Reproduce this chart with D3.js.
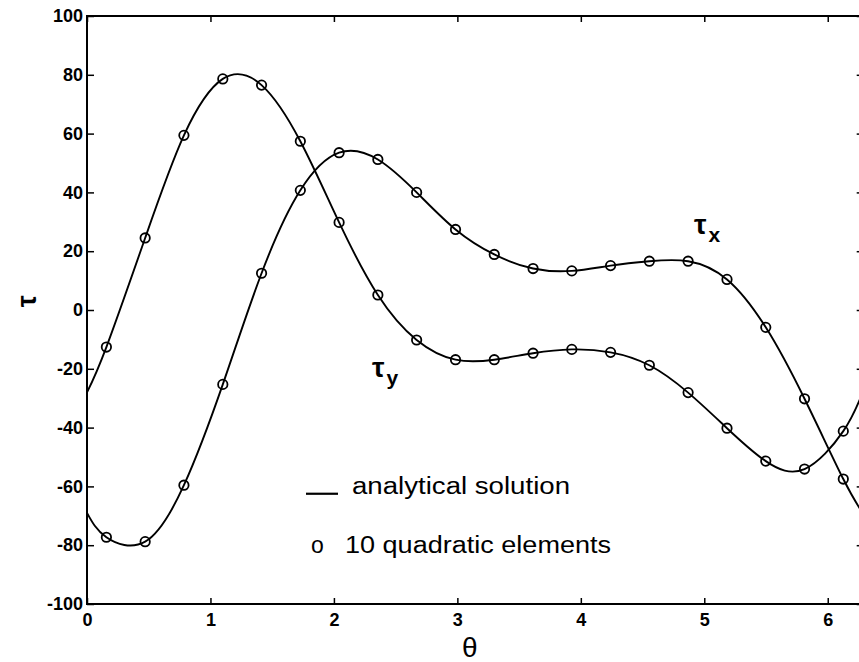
<!DOCTYPE html>
<html>
<head>
<meta charset="utf-8">
<script src="https://cdn.jsdelivr.net/npm/d3@7"></script>
<style>
  html, body { margin: 0; padding: 0; background: #fff; }
  svg { display: block; }
  text { font-family: "Liberation Sans", Arial, Helvetica, sans-serif; fill: #000; }
</style>
</head>
<body>
<svg id="chart" width="859" height="662"></svg>
<script>
// ---- data ----
const thetaNodes = [0.157, 0.471, 0.785, 1.100, 1.414, 1.728, 2.042, 2.356, 2.670, 2.985,
                    3.299, 3.613, 3.927, 4.241, 4.555, 4.869, 5.184, 5.498, 5.812, 6.126];
// curve labelled tau_y (starts near -28, peaks near 80)
const tauYNodes = [-12.6, 24.5, 59.4, 78.6, 76.5, 57.4, 29.8, 5.1, -10.2, -16.9,
                   -16.9, -14.7, -13.4, -14.4, -18.8, -28.1, -40.2, -51.4, -54.1, -41.2];
// curve labelled tau_x (starts near -69, dips near -80)
const tauXNodes = [-77.3, -78.8, -59.6, -25.3, 12.5, 40.7, 53.5, 51.2, 40.0, 27.4,
                   18.9, 14.1, 13.3, 15.1, 16.6, 16.6, 10.4, -5.9, -30.2, -57.5];
// values of the analytical curves at theta = 0 and theta = 2*pi
const thetaEnds = [0, 6.2832];
const tauYEnds = [-28, -28];
const tauXEnds = [-69, -69];

const xTicks = [0, 1, 2, 3, 4, 5, 6];
const yTicks = [-100, -80, -60, -40, -20, 0, 20, 40, 60, 80, 100];
const legendLabels = ["analytical solution", "10 quadratic elements"];

// ---- layout ----
const svg = d3.select("#chart");
const x = d3.scaleLinear().domain([0, 6.2832]).range([87, 862.7]);
const y = d3.scaleLinear().domain([-100, 100]).range([604, 16]);

// frame
svg.append("rect")
  .attr("x", x(0)).attr("y", y(100))
  .attr("width", x(6.2832) - x(0)).attr("height", y(-100) - y(100))
  .attr("fill", "none").attr("stroke", "#000").attr("stroke-width", 2);

// axes (ticks inward, MATLAB style)
const axBottom = svg.append("g").attr("transform", `translate(0,${y(-100)})`)
  .call(d3.axisBottom(x).tickValues(xTicks).tickSize(-6).tickPadding(9).tickFormat(d3.format("d")));
const axTop = svg.append("g").attr("transform", `translate(0,${y(100)})`)
  .call(d3.axisTop(x).tickValues(xTicks).tickSize(-6).tickFormat(""));
const axLeft = svg.append("g").attr("transform", `translate(${x(0)},0)`)
  .call(d3.axisLeft(y).tickValues(yTicks).tickSize(-7).tickPadding(4).tickFormat(d => String(d)));
const axRight = svg.append("g").attr("transform", `translate(${x(6.2832)},0)`)
  .call(d3.axisRight(y).tickValues(yTicks).tickSize(-6).tickFormat(""));

[axBottom, axTop, axLeft, axRight].forEach(g => {
  g.select(".domain").remove();
  g.selectAll(".tick line").attr("stroke", "#000").attr("stroke-width", 1.5);
  g.selectAll(".tick text")
    .style("font-family", '"Liberation Sans", Arial, sans-serif')
    .style("font-size", "18px").style("font-weight", "bold").attr("fill", "#000");
});

// axis titles
svg.append("text").attr("x", x(3.1)).attr("y", 657)
  .attr("text-anchor", "middle").style("font-size", "28px").text("θ");
svg.append("text")
  .attr("transform", `translate(36,${y(3)}) rotate(-90)`)
  .attr("text-anchor", "middle").style("font-size", "27px").style("font-weight", "bold").text("τ");

// analytical curves
const line = d3.line().x(d => x(d[0])).y(d => y(d[1])).curve(d3.curveNatural);
function curvePts(nodes, ends) {
  return [[thetaEnds[0], ends[0]], ...thetaNodes.map((t, i) => [t, nodes[i]]), [thetaEnds[1], ends[1]]];
}
const plot = svg.append("g");
[[tauYNodes, tauYEnds], [tauXNodes, tauXEnds]].forEach(([n, e]) => {
  plot.append("path").datum(curvePts(n, e)).attr("d", line)
    .attr("fill", "none").attr("stroke", "#000").attr("stroke-width", 1.9);
});

// FE nodal values
[tauYNodes, tauXNodes].forEach(n => {
  plot.selectAll(null).data(thetaNodes.map((t, i) => [t, n[i]])).enter().append("circle")
    .attr("cx", d => x(d[0])).attr("cy", d => y(d[1])).attr("r", 4.7)
    .attr("fill", "none").attr("stroke", "#000").attr("stroke-width", 1.8);
});

// curve labels
function tauLabel(px, py, sub) {
  const t = svg.append("text").attr("x", px).attr("y", py).style("font-weight", "bold");
  t.append("tspan").style("font-size", "28px").text("τ");
  t.append("tspan").style("font-size", "21px").attr("dx", 2).attr("dy", 8).text(sub);
}
tauLabel(694, 234, "x");
tauLabel(372, 377, "y");

// legend
svg.append("line").attr("x1", 306).attr("x2", 338).attr("y1", y(-62.5)).attr("y2", y(-62.5))
  .attr("stroke", "#000").attr("stroke-width", 2.2);
svg.append("text").attr("x", 352).attr("y", y(-60) + 8)
  .style("font-size", "23px").attr("textLength", 218).attr("lengthAdjust", "spacingAndGlyphs")
  .text(legendLabels[0]);
svg.append("text").attr("x", 311).attr("y", y(-80) + 8)
  .style("font-size", "23px").text("o");
svg.append("text").attr("x", 345).attr("y", y(-80) + 8)
  .style("font-size", "23px").attr("textLength", 266).attr("lengthAdjust", "spacingAndGlyphs")
  .text(legendLabels[1]);
</script>
</body>
</html>
